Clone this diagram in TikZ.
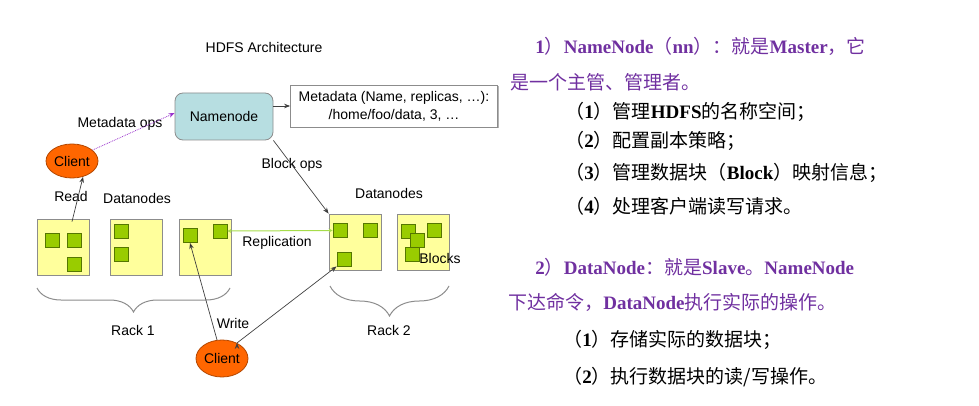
\documentclass[tikz,border=0pt]{standalone}
\usepackage{fontspec}
\setmainfont{Liberation Sans}
\newfontfamily\cjk{Noto Sans CJK SC}
\newfontfamily\serifen{Liberation Serif}
\newcommand\en[1]{{\serifen\bfseries #1}}
\usepackage{xcolor}
\usepackage{tikz}
\usetikzlibrary{arrows.meta, shapes.geometric, decorations.pathreplacing, shadows}

\definecolor{nnblue}{HTML}{B7DEE1}
\definecolor{dnyellow}{HTML}{FFFF9C}
\definecolor{dngray}{HTML}{8C8C8C}
\definecolor{blkgreen}{HTML}{99CC00}
\definecolor{blkedge}{HTML}{557700}
\definecolor{clientorange}{HTML}{FF6600}
\definecolor{clientedge}{HTML}{B34700}
\definecolor{linegray}{HTML}{404040}
\definecolor{opspurple}{HTML}{9933CC}
\definecolor{replgreen}{HTML}{A6DC4A}
\definecolor{textpurple}{HTML}{7030A0}

\begin{document}
\begin{tikzpicture}[x=1pt, y=-1pt, line width=0.8pt,
        >={Stealth[length=6pt,width=4.5pt]},
        every node/.style={font=\fontsize{14}{16}\selectfont},
        namenode/.style={draw=dngray, fill=nnblue, rounded corners=8pt, minimum width=98pt, minimum height=47pt},
        metabox/.style={draw=dngray, fill=white, minimum width=207pt, minimum height=42pt, align=center, inner sep=0pt,
            font=\fontsize{14}{18}\selectfont, drop shadow={shadow xshift=1.5pt, shadow yshift=-1.5pt, opacity=.6}},
        datanode/.style={draw=dngray, fill=dnyellow, minimum width=52pt, minimum height=56pt, inner sep=0pt},
        block/.style={draw=blkedge, fill=blkgreen, minimum size=14pt, inner sep=0pt},
        client/.style={ellipse, draw=clientedge, fill=clientorange, minimum width=52pt, minimum height=34pt, inner sep=0pt},
        rackbrace/.style={decorate, decoration={brace, amplitude=#1}, draw=dngray, line width=1pt},
        cnline/.style={anchor=west, inner sep=0pt, font=\fontsize{19}{22}\cjk}]

        \useasboundingbox (0,0) rectangle (979,406);

        % left: the HDFS picture
        \node (title) at (264,47) {HDFS Architecture};
        \node[namenode] (nn) at (224,116.5) {Namenode};
        \node[metabox] (meta) at (394,106) {Metadata (Name, replicas, …):\\/home/foo/data, 3, …};

        \node[client] (client1) at (72,161) {Client};
        \node[client, minimum height=37pt] (client2) at (222,358.5) {Client};

        % rack 1
        \node[datanode] (dn1) at (63,247) {};
        \node[datanode] (dn2) at (136.5,247) {};
        \node[datanode] (dn3) at (205,247) {};
        \node[block] (b11) at (52.5,240) {};
        \node[block] (b12) at (74.5,240) {};
        \node[block] (b13) at (74.5,264) {};
        \node[block] (b21) at (121.5,231) {};
        \node[block] (b22) at (121.5,254) {};
        \node[block] (b31) at (190,235.5) {};
        \node[block] (b32) at (220,231) {};

        % rack 2
        \node[datanode] (dn4) at (355,242) {};
        \node[datanode] (dn5) at (423,242) {};
        \node[block] (b41) at (340,230.5) {};
        \node[block] (b42) at (370,230.5) {};
        \node[block] (b43) at (344,259) {};
        \node[block] (b51) at (408.5,231) {};
        \node[block] (b52) at (417,240) {};
        \node[block] (b53) at (412.5,254) {};
        \node[block] (b54) at (434,230.5) {};

        \coordinate (r1a) at (37,288);
        \coordinate (r1b) at (230,288);
        \coordinate (r2a) at (330,286);
        \coordinate (r2b) at (449,286);
        \draw[rackbrace=24pt] (r1b) -- (r1a);
        \draw[rackbrace=30pt] (r2b) -- (r2a);

        \node (metaops) at (120,124) {Metadata ops};
        \node (blockops) at (292,165) {Block ops};
        \node (read) at (71,196) {Read};
        \node (dnlabel1) at (137,198) {Datanodes};
        \node (dnlabel2) at (389,193) {Datanodes};
        \node (repl) at (277,243) {Replication};
        \node (blocks) at (440,258) {Blocks};
        \node (write) at (233,323) {Write};
        \node (rack1) at (133,330) {Rack 1};
        \node (rack2) at (389,330) {Rack 2};

        \path[->, draw=linegray, line width=0.7pt]
        (nn.east |- meta.west) edge (meta.west)
        (nn.south east) edge (dn4.north west)
        ([xshift=9pt, yshift=-3pt]dn1.north) edge (client1.-55)
        (client2.105) edge (b31.south)
        (client2.46) edge (b43.south west);

        \draw[->, opspurple, densely dotted, line width=0.8pt] (client1.28) -- ([yshift=3.5pt]nn.west);
        \draw[{Stealth[length=4pt,width=4pt]}-{Stealth[length=4pt,width=4pt]}, replgreen, line width=1pt]
            (b32.east) -- (b41.west);

        % right: the notes
        \node[cnline, text=textpurple] (nnline1) at (535,46) {\en{1}）\en{NameNode}（\en{nn}）：就是\en{Master}，它};
        \node[cnline, text=textpurple] (nnline2) at (510,82) {是一个主管、管理者。};
        \node[cnline] (nnitem1) at (565,112) {（\en{1}）管理\en{HDFS}的名称空间；};
        \node[cnline] (nnitem2) at (565,141) {（\en{2}）配置副本策略；};
        \node[cnline] (nnitem3) at (565,173) {（\en{3}）管理数据块（\en{Block}）映射信息；};
        \node[cnline] (nnitem4) at (565,206) {（\en{4}）处理客户端读写请求。};
        \node[cnline, text=textpurple] (dnline1) at (535,267) {\en{2}）\en{DataNode}：就是\en{Slave}。\en{NameNode}};
        \node[cnline, text=textpurple] (dnline2) at (508,302) {下达命令，\en{DataNode}执行实际的操作。};
        \node[cnline] (dnitem1) at (563,340) {（\en{1}）存储实际的数据块；};
        \node[cnline] (dnitem2) at (563,377) {（\en{2}）执行数据块的读/写操作。};
\end{tikzpicture}
\end{document}
